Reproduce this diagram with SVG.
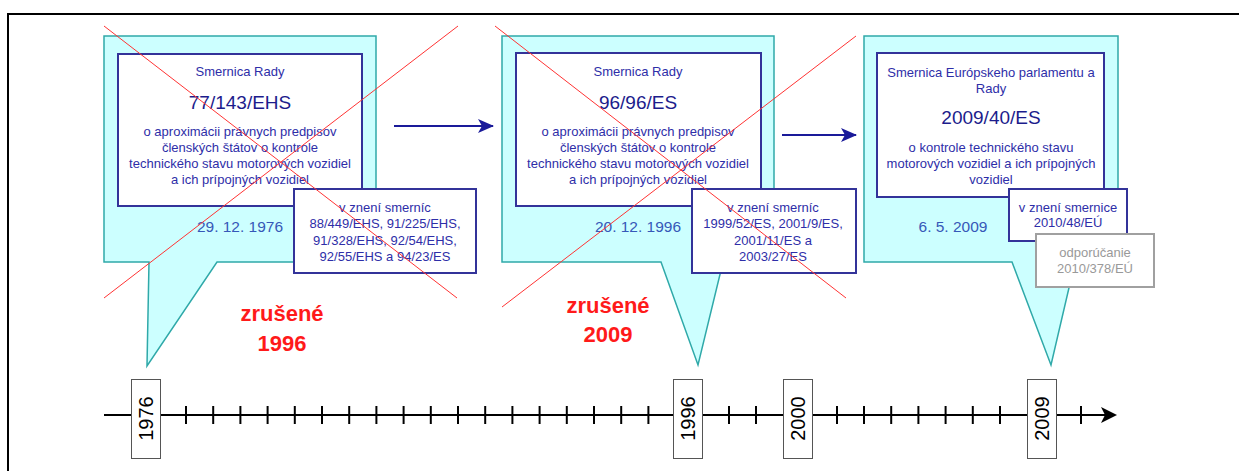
<svg xmlns="http://www.w3.org/2000/svg" width="1239" height="471" viewBox="0 0 1239 471">
<style>
text{font-family:"Liberation Sans",Arial,sans-serif}
.call{fill:#CCFFFF;stroke:#2FA9A9;stroke-width:1.5}
.inner{fill:#FFFFFF;stroke:#333399;stroke-width:2}
.amend{fill:#FFFFFF;stroke:#333399;stroke-width:2}
.gray{fill:#FFFFFF;stroke:#A0A0A0;stroke-width:2}
.t{font-size:13px;fill:#2E2EA8;text-anchor:middle}
.num{font-size:19px;fill:#1C1C8C;text-anchor:middle}
.date{font-size:15.5px;fill:#3658B8;text-anchor:middle}
.gt{font-size:13px;fill:#999999;text-anchor:middle}
.red{font-size:22px;font-weight:bold;fill:#FF1A1A;text-anchor:middle}
.x{stroke:#FF3333;stroke-width:1}
.yb{fill:#FFFFFF;stroke:#555555;stroke-width:1}
.yt{font-size:20px;fill:#000000;text-anchor:middle}
.tick{stroke:#000000;stroke-width:2}
.conn{stroke:#1A1A99;stroke-width:2;fill:none}
</style>
<defs>
<marker id="ah" markerWidth="16" markerHeight="14" refX="15" refY="7" orient="auto" markerUnits="userSpaceOnUse" viewBox="0 0 16 14">
<path d="M0,0 L16,7 L0,14 L4,7 Z" fill="#1A1A99"/>
</marker>
</defs>
<rect x="0" y="0" width="1239" height="471" fill="#FFFFFF"/>
<g id="frame"><path d="M8,471 V14 H1239" fill="none" stroke="#000000" stroke-width="2"/></g>

<g id="node-77-143">
<path class="call" d="M104,36 H376 V262 H217 L147,366 L149,262 H104 Z"/>
<rect class="inner" x="118" y="54" width="244" height="152"/>
<text class="t" x="240" y="76">Smernica Rady</text>
<text class="num" x="240" y="109">77/143/EHS</text>
<text class="t" x="240" y="136">o aproximácii právnych predpisov</text>
<text class="t" x="240" y="152">členských štátov o kontrole</text>
<text class="t" x="240" y="168">technického stavu motorových vozidiel</text>
<text class="t" x="240" y="184">a ich prípojných vozidiel</text>
<text class="date" x="240" y="232">29. 12. 1976</text>
<rect class="amend" x="294" y="189" width="182" height="84"/>
<text class="t" x="385" y="211.5">v znení smerníc</text>
<text class="t" x="385" y="228">88/449/EHS, 91/225/EHS,</text>
<text class="t" x="385" y="244.5">91/328/EHS, 92/54/EHS,</text>
<text class="t" x="385" y="261">92/55/EHS a 94/23/ES</text>
<line class="x" x1="104" y1="26" x2="457" y2="298"/>
<line class="x" x1="104" y1="298" x2="458" y2="26"/>
</g>

<g id="node-96-96">
<path class="call" d="M502,36 H774 V262 H723 L698,365 L661,262 H502 Z"/>
<rect class="inner" x="516" y="53" width="245" height="153"/>
<text class="t" x="638" y="76">Smernica Rady</text>
<text class="num" x="638" y="109">96/96/ES</text>
<text class="t" x="638" y="136">o aproximácii právnych predpisov</text>
<text class="t" x="638" y="152">členských štátov o kontrole</text>
<text class="t" x="638" y="168">technického stavu motorových vozidiel</text>
<text class="t" x="638" y="184">a ich prípojných vozidiel</text>
<text class="date" x="638" y="232">20. 12. 1996</text>
<rect class="amend" x="692" y="189" width="164" height="84"/>
<text class="t" x="773" y="211.5">v znení smerníc</text>
<text class="t" x="773" y="228">1999/52/ES, 2001/9/ES,</text>
<text class="t" x="773" y="244.5">2001/11/ES a</text>
<text class="t" x="773" y="261">2003/27/ES</text>
<line class="x" x1="495" y1="26" x2="846" y2="298"/>
<line class="x" x1="502" y1="307" x2="856" y2="36"/>
</g>

<g id="node-2009-40">
<path class="call" d="M864,36 H1118 V262 H1075 L1051,365 L1012,262 H864 Z"/>
<rect class="inner" x="877" y="53" width="227" height="144"/>
<text class="t" x="991" y="77">Smernica Európskeho parlamentu a</text>
<text class="t" x="991" y="93">Rady</text>
<text class="num" x="991" y="124">2009/40/ES</text>
<text class="t" x="991" y="152">o kontrole technického stavu</text>
<text class="t" x="991" y="168">motorových vozidiel a ich prípojných</text>
<text class="t" x="991" y="184">vozidiel</text>
<text class="date" x="953" y="232">6. 5. 2009</text>
<rect class="amend" x="1009" y="189" width="118" height="52"/>
<text class="t" x="1068" y="211.5">v znení smernice</text>
<text class="t" x="1068" y="227">2010/48/EÚ</text>
<rect class="gray" x="1036" y="234" width="118" height="53"/>
<text class="gt" x="1095" y="257">odporúčanie</text>
<text class="gt" x="1095" y="273">2010/378/EÚ</text>
</g>

<g id="label-zrusene-1996">
<text class="red" x="282" y="321">zrušené</text>
<text class="red" x="282" y="351">1996</text>
</g>
<g id="label-zrusene-2009">
<text class="red" x="608" y="313">zrušené</text>
<text class="red" x="608" y="342">2009</text>
</g>

<g id="connectors">
<line class="conn" x1="394" y1="126" x2="493" y2="126" marker-end="url(#ah)"/>
<line class="conn" x1="782" y1="135" x2="856" y2="135" marker-end="url(#ah)"/>
</g>

<g id="timeline">
<line x1="104" y1="415" x2="1110" y2="415" stroke="#000000" stroke-width="2"/>
<path d="M1117,415 L1101,407 L1105,415 L1101,423 Z" fill="#000000"/>
<g class="tick">
<line x1="186" y1="406" x2="186" y2="424"/>
<line x1="213.2" y1="406" x2="213.2" y2="424"/>
<line x1="240.4" y1="406" x2="240.4" y2="424"/>
<line x1="267.6" y1="406" x2="267.6" y2="424"/>
<line x1="294.8" y1="406" x2="294.8" y2="424"/>
<line x1="322" y1="406" x2="322" y2="424"/>
<line x1="349.2" y1="406" x2="349.2" y2="424"/>
<line x1="376.4" y1="406" x2="376.4" y2="424"/>
<line x1="403.6" y1="406" x2="403.6" y2="424"/>
<line x1="430.8" y1="406" x2="430.8" y2="424"/>
<line x1="458" y1="406" x2="458" y2="424"/>
<line x1="485.2" y1="406" x2="485.2" y2="424"/>
<line x1="512.4" y1="406" x2="512.4" y2="424"/>
<line x1="539.6" y1="406" x2="539.6" y2="424"/>
<line x1="566.8" y1="406" x2="566.8" y2="424"/>
<line x1="594" y1="406" x2="594" y2="424"/>
<line x1="621.2" y1="406" x2="621.2" y2="424"/>
<line x1="648.4" y1="406" x2="648.4" y2="424"/>
<line x1="729" y1="406" x2="729" y2="424"/>
<line x1="756" y1="406" x2="756" y2="424"/>
<line x1="837" y1="406" x2="837" y2="424"/>
<line x1="864" y1="406" x2="864" y2="424"/>
<line x1="891.2" y1="406" x2="891.2" y2="424"/>
<line x1="918.4" y1="406" x2="918.4" y2="424"/>
<line x1="945.6" y1="406" x2="945.6" y2="424"/>
<line x1="972.8" y1="406" x2="972.8" y2="424"/>
<line x1="1000" y1="406" x2="1000" y2="424"/>
<line x1="1081" y1="406" x2="1081" y2="424"/>
</g>
</g>

<g id="year-1976">
<rect class="yb" x="131.5" y="379.5" width="29" height="79"/>
<text class="yt" transform="translate(146,418.5) rotate(-90)" x="0" y="7">1976</text>
</g>
<g id="year-1996">
<rect class="yb" x="673.5" y="379.5" width="29" height="79"/>
<text class="yt" transform="translate(688,418.5) rotate(-90)" x="0" y="7">1996</text>
</g>
<g id="year-2000">
<rect class="yb" x="783.5" y="379.5" width="29" height="79"/>
<text class="yt" transform="translate(798,418.5) rotate(-90)" x="0" y="7">2000</text>
</g>
<g id="year-2009">
<rect class="yb" x="1027.5" y="379.5" width="29" height="79"/>
<text class="yt" transform="translate(1042,418.5) rotate(-90)" x="0" y="7">2009</text>
</g>
</svg>
